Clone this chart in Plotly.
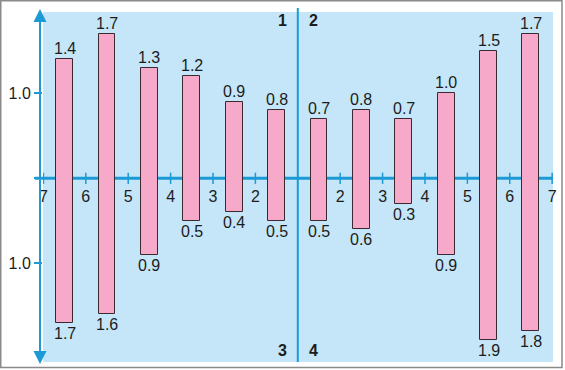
import plotly.graph_objects as go

# ---- data ----
left_ticks = ["7", "6", "5", "4", "3", "2"]
right_ticks = ["2", "3", "4", "5", "6", "7"]
left_upper = [1.4, 1.7, 1.3, 1.2, 0.9, 0.8]
left_lower = [1.7, 1.6, 0.9, 0.5, 0.4, 0.5]
right_upper = [0.7, 0.8, 0.7, 1.0, 1.5, 1.7]
right_lower = [0.5, 0.6, 0.3, 0.9, 1.9, 1.8]
quadrants = ["1", "2", "3", "4"]

# ---- styles ----
BG = "#c5e6f8"
AXIS = "#1b9ad6"
PINK = "#f6a9c9"
EDGE = "#3a2a30"
TEXT = "#1c1c1c"
FONT = "Liberation Sans, Arial, sans-serif"
FS = 16

# interval midpoints on a symmetric axis (center line = 0)
n = len(left_upper)
left_x = [-(n - i) + 0.5 for i in range(n)]
right_x = [i + 0.5 for i in range(len(right_upper))]
bar_x = left_x + right_x
upper = left_upper + right_upper
lower = left_lower + right_lower

tick_vals = [-(n - i) for i in range(n)] + [i + 1 for i in range(len(right_ticks))]
tick_text = left_ticks + right_ticks

fig = go.Figure()

# axis tick crosses
fig.add_trace(go.Scatter(
    x=tick_vals, y=[0] * len(tick_vals), mode="markers",
    marker=dict(symbol="line-ns", size=8, line=dict(color=AXIS, width=1.5)),
    hoverinfo="skip", showlegend=False))

# bars spanning from -lower to +upper
fig.add_trace(go.Bar(
    x=bar_x, y=[u + l for u, l in zip(upper, lower)], base=[-l for l in lower],
    width=0.4, marker=dict(color=PINK, line=dict(color=EDGE, width=1)),
    showlegend=False, hoverinfo="skip"))

W, H = 565, 370
ml, mr, mt, mb = 43, 12, 12, 8
pw, ph = W - ml - mr, H - mt - mb

def px_x(p):
    return (p - ml) / pw

def px_y(p):
    return (H - mb - p) / ph

shapes = [
    dict(type="line", xref="paper", yref="y", x0=px_x(35), x1=1.0, y0=0, y1=0,
         line=dict(color=AXIS, width=3), layer="below"),
    dict(type="line", xref="x", yref="paper", x0=0, x1=0, y0=0, y1=px_y(8),
         line=dict(color=AXIS, width=2), layer="below"),
    dict(type="rect", xref="paper", yref="paper", x0=px_x(0.75), x1=px_x(562),
         y0=px_y(367.5), y1=px_y(0.75), line=dict(color="#8a8a8a", width=1.5),
         fillcolor="rgba(0,0,0,0)", layer="below"),
]

annotations = [
    dict(xref="paper", yref="paper", x=px_x(40), y=px_y(9), ax=0, ay=170,
         text="", showarrow=True, arrowhead=2, arrowsize=1.3, arrowwidth=2,
         arrowcolor=AXIS),
    dict(xref="paper", yref="paper", x=px_x(40), y=px_y(364), ax=0, ay=-186,
         text="", showarrow=True, arrowhead=2, arrowsize=1.3, arrowwidth=2,
         arrowcolor=AXIS),
]
for bx, u, l in zip(bar_x, upper, lower):
    annotations.append(dict(xref="x", yref="y", x=bx, y=u, text=f"{u:.1f}",
                            showarrow=False, yanchor="bottom", yshift=0,
                            font=dict(size=FS, color=TEXT, family=FONT)))
    annotations.append(dict(xref="x", yref="y", x=bx, y=-l, text=f"{l:.1f}",
                            showarrow=False, yanchor="top", yshift=0,
                            font=dict(size=FS, color=TEXT, family=FONT)))

q_pos = [(-0.37, 21), (0.37, 21), (-0.37, 350), (0.37, 350)]
for q, (qx, qy) in zip(quadrants, q_pos):
    annotations.append(dict(xref="x", yref="paper", x=qx, y=px_y(qy), text=f"<b>{q}</b>",
                            showarrow=False, xanchor="center", yanchor="middle",
                            font=dict(size=FS, color=TEXT, family=FONT)))

fig.update_layout(
    width=W, height=H, margin=dict(l=ml, r=mr, t=mt, b=mb),
    paper_bgcolor="white", plot_bgcolor=BG,
    shapes=shapes, annotations=annotations, bargap=0,
    font=dict(family=FONT, size=FS, color=TEXT),
    xaxis=dict(range=[-6.01, 6.02], tickvals=tick_vals, ticktext=tick_text,
               showgrid=False, zeroline=False, showline=False,
               anchor="free", position=px_y(178.3), ticks="outside", ticklen=3,
               tickcolor="rgba(0,0,0,0)", tickfont=dict(size=FS, color=TEXT, family=FONT),
               fixedrange=True),
    yaxis=dict(range=[-2.161, 1.956], tickvals=[1, 0, -1], ticktext=["1.0", "", "1.0"],
               showgrid=False, zeroline=False, showline=False,
               ticks="outside", ticklen=8, tickwidth=2, tickcolor=AXIS,
               tickfont=dict(size=FS, color=TEXT, family=FONT), fixedrange=True),
)

fig.write_html("out.html")
